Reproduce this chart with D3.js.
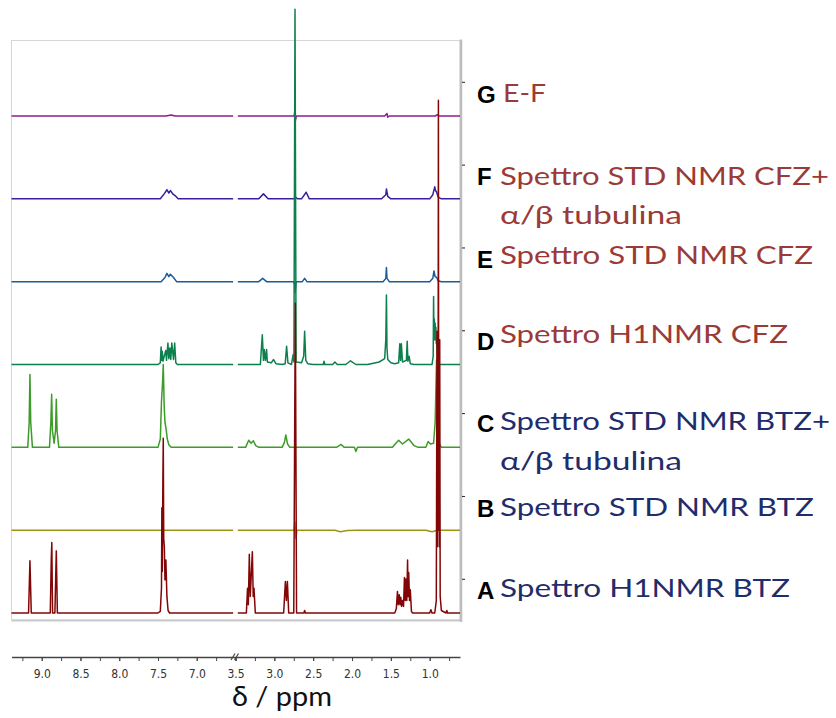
<!DOCTYPE html>
<html>
<head>
<meta charset="utf-8">
<script src="https://cdn.jsdelivr.net/npm/d3@7"></script>
<style>
  html, body { margin: 0; padding: 0; background: #fff; }
  svg { display: block; }
</style>
</head>
<body>
<svg id="chart" width="836" height="718"></svg>
<script>
// ppm axis is broken between 6.5 and 3.5
const leftTicks  = [9.0, 8.5, 8.0, 7.5, 7.0];
const rightTicks = [3.5, 3.0, 2.5, 2.0, 1.5, 1.0];

// spectra: [ppm, intensity] points, intensity in units of trace spacing; null = axis break
const specA = [
  [9.39,0],[9.17,0],[9.152,0.63],[9.135,0],
  [8.89,0],[8.877,0.64],[8.87,0.85],[8.86,0],[8.83,0],[8.812,0.75],[8.798,0],
  [7.50,0],[7.47,0.02],[7.455,0.3],[7.45,1.27],[7.444,0.5],[7.437,1.6],[7.432,2.11],[7.426,0.9],[7.418,0.8],[7.41,0.4],[7.398,0.64],[7.385,0.2],[7.37,0.03],[7.35,0],
  [6.53,0], null,
  [3.47,0],[3.36,0],[3.345,0.3],[3.335,0.1],[3.322,0.71],[3.31,0.2],[3.283,0.74],[3.272,0.2],[3.262,0.3],[3.245,0],
  [2.88,0],[2.858,0.38],[2.845,0.15],[2.832,0.38],[2.815,0],
  [2.75,0],[2.73,3.74],[2.714,0],
  [2.62,0],[2.61,0.03],[2.60,0],
  [1.45,0],[1.43,0.05],[1.415,0.26],[1.405,0.1],[1.392,0.22],[1.382,0.1],[1.372,0.19],[1.362,0.08],[1.35,0.15],[1.337,0.08],[1.325,0.43],[1.315,0.15],[1.305,0.41],[1.295,0.15],[1.285,0.64],[1.278,0.2],[1.27,0.49],[1.26,0.15],[1.25,0.28],[1.235,0.02],[1.22,0],
  [1.0,0],[0.985,0.04],[0.97,0],
  [0.935,0],[0.915,0.15],[0.906,3.4],[0.901,0.8],[0.897,3.4],[0.893,1.0],[0.888,6.19],[0.884,1.0],[0.88,3.3],[0.876,0.8],[0.871,3.3],[0.865,0.2],[0.85,0.03],
  [0.79,0],[0.78,0.03],[0.77,0],[0.61,0]
];
const specB = [
  [9.39,0],[6.53,0], null,
  [3.47,0],[2.745,0],[2.735,0.1],[2.722,-0.1],[2.71,0],
  [2.22,0],[2.15,-0.02],[2.06,-0.005],[1.95,0],
  [1.05,0],[0.97,-0.02],[0.9,0],[0.61,0]
];
const specC = [
  [9.39,0],[9.18,0],[9.162,0.3],[9.152,0.88],[9.142,0.3],[9.12,0],
  [8.9,0],[8.882,0.3],[8.872,0.64],[8.862,0.2],[8.84,0.05],[8.822,0.2],[8.812,0.58],[8.802,0.2],[8.78,0],
  [7.50,0],[7.47,0.1],[7.455,0.55],[7.44,0.8],[7.432,1.0],[7.42,0.5],[7.41,0.3],[7.395,0.22],[7.38,0.1],[7.36,0.03],[7.33,0],
  [6.53,0], null,
  [3.47,0],[3.37,0],[3.33,0.085],[3.30,0.05],[3.27,0.08],[3.24,0.02],[3.2,0],
  [2.9,0],[2.87,0.06],[2.852,0.15],[2.83,0.04],[2.8,0],
  [2.2,0],[2.14,0.035],[2.1,0],
  [1.97,0],[1.95,-0.05],[1.93,0],
  [1.48,0],[1.40,0.085],[1.35,0.04],[1.27,0.1],[1.2,0.02],[1.15,0],
  [1.05,0],[1.02,0.07],[0.99,0.04],[0.95,0.05],[0.93,0.3],[0.912,1.05],[0.9,0.3],[0.88,0.05],[0.85,0],[0.61,0]
];
const specD = [
  [9.39,0],[7.50,0],[7.47,0.02],[7.46,0.21],[7.452,0.05],[7.445,0.16],[7.435,0.04],[7.40,0.17],[7.39,0.05],[7.372,0.26],[7.36,0.07],[7.347,0.2],[7.335,0.06],[7.322,0.26],[7.30,0.06],[7.285,0.26],[7.27,0.02],[7.25,0],
  [6.53,0], null,
  [3.47,0],[3.18,0],[3.155,0.36],[3.14,0.05],[3.13,0.18],[3.115,0.05],[3.10,0.18],[3.09,0.03],[3.04,0.02],[3.01,0.06],[2.98,0.01],[2.90,0],
  [2.86,0.01],[2.842,0.22],[2.825,0.02],[2.78,0],[2.758,0.12],[2.748,0.03],[2.734,4.29],[2.72,0.03],
  [2.65,0.02],[2.622,0.1],[2.61,0.40],[2.595,0.05],[2.57,0.01],[2.5,0],
  [2.37,0],[2.36,0.04],[2.35,0],[2.25,0],[2.22,0.03],[2.19,0],[2.08,0],[2.02,0.045],[1.95,0],
  [1.8,0],[1.65,0.03],[1.58,0.07],[1.565,0.3],[1.557,0.84],[1.55,0.2],[1.54,0.06],[1.50,0.02],[1.45,0.01],
  [1.40,0.02],[1.385,0.25],[1.375,0.05],[1.365,0.25],[1.35,0.03],[1.30,0.05],[1.29,0.28],[1.28,0.04],[1.265,0.1],[1.25,0.01],[1.2,0],
  [0.97,0],[0.955,0.1],[0.95,0.82],[0.945,0.3],[0.94,0.55],[0.935,0.3],[0.93,0.5],[0.925,0.3],[0.92,0.45],[0.915,0.25],[0.91,0.35],[0.9,0.05],[0.88,0],[0.61,0]
];
const specE = [
  [9.39,0],[7.46,0],[7.41,0.05],[7.385,0.1],[7.36,0.06],[7.34,0.09],[7.30,0.05],[7.26,0],
  [6.53,0], null,
  [3.47,0],[3.2,0],[3.15,0.04],[3.1,0],[2.75,0],[2.74,-0.03],[2.732,-0.13],[2.72,0],[2.64,0],[2.61,0.04],[2.58,0],
  [1.6,0],[1.565,0.04],[1.557,0.17],[1.55,0.04],[1.52,0],
  [1.0,0],[0.96,0.04],[0.945,0.13],[0.93,0.06],[0.91,0.05],[0.89,0.01],[0.85,0],[0.61,0]
];
const specF = [
  [9.39,0],[7.47,0],[7.42,0.06],[7.385,0.11],[7.36,0.07],[7.34,0.1],[7.31,0.06],[7.28,0.04],[7.24,0],
  [6.53,0], null,
  [3.47,0],[3.2,0],[3.14,0.06],[3.08,0],[2.75,0],[2.73,0.02],[2.7,0],[2.65,0],[2.59,0.08],[2.55,0],
  [1.62,0],[1.565,0.05],[1.557,0.12],[1.54,0.03],[1.5,0],
  [1.0,0],[0.96,0.05],[0.935,0.145],[0.925,0.1],[0.91,0.08],[0.89,0.02],[0.85,0],[0.61,0]
];
const specG = [
  [9.39,0],[7.40,0],[7.33,0.012],[7.28,0],
  [6.53,0], null,
  [3.47,0],[2.745,0],[2.737,0.05],[2.727,-0.05],[2.717,0],[1.58,0],[1.55,0.03],[1.54,-0.015],[1.52,0],[0.93,0],[0.9,0.015],[0.88,0],[0.61,0]
];

const traceKeys   = ['G', 'F', 'E', 'D', 'C', 'B', 'A'];
const traceData   = { A: specA, B: specB, C: specC, D: specD, E: specE, F: specF, G: specG };
const traceOffset = { A: 0, B: 1, C: 2, D: 3, E: 4, F: 5, G: 6 };
const traceColor  = { A: '#820606', B: '#9c9514', C: '#3d9b27', D: '#0d7f4e', E: '#1c5b98', F: '#3b1e9e', G: '#8e1c8e' };

const labelLines = {
  G: ['E-F'],
  F: ['Spettro STD NMR CFZ+', 'α/β tubulina'],
  E: ['Spettro STD NMR CFZ'],
  D: ['Spettro H1NMR CFZ'],
  C: ['Spettro STD NMR BTZ+', 'α/β tubulina'],
  B: ['Spettro STD NMR BTZ'],
  A: ['Spettro H1NMR BTZ']
};

const svg = d3.select('#chart');
const L = 11.5, R = 460, T = 40.5, B = 620, BRK = 235.5;

const x = d3.scaleLinear().domain([9.39, 6.5, 3.5, 0.61]).range([L, BRK, BRK, R]);
const y = d3.scaleLinear().domain([0, 6]).range([613, 116]);

// frame
svg.append('rect').attr('x', L).attr('y', T).attr('width', R - L).attr('height', B - T)
  .attr('fill', 'none').attr('stroke', '#d6d6d6').attr('stroke-width', 1);
svg.append('line').attr('x1', L).attr('x2', R).attr('y1', B + 0.5).attr('y2', B + 0.5)
  .attr('stroke', '#c9c9c9').attr('stroke-width', 2);
svg.append('line').attr('x1', R + 1).attr('x2', R + 1).attr('y1', T - 1).attr('y2', B + 2)
  .attr('stroke', '#bdbdbd').attr('stroke-width', 2.5);

// right-side ticks, one per trace
svg.selectAll('line.rt').data(traceKeys).join('line').attr('class', 'rt')
  .attr('x1', R + 2).attr('x2', R + 5)
  .attr('y1', d => y(traceOffset[d] + 0.407)).attr('y2', d => y(traceOffset[d] + 0.407))
  .attr('stroke', '#222').attr('stroke-width', 1);

// traces (A drawn last so it sits on top)
const line = d3.line().defined(d => d !== null);
traceKeys.forEach(k => {
  const off = traceOffset[k];
  line.x(d => x(d[0])).y(d => y(off + d[1]));
  svg.append('path').datum(traceData[k])
    .attr('d', line)
    .attr('fill', 'none')
    .attr('stroke', traceColor[k])
    .attr('stroke-width', 1.5)
    .attr('stroke-linejoin', 'round');
});

// bottom ppm axis in two pieces
const AX_Y = 657;
const xl = d3.scaleLinear().domain([9.39, 6.5]).range([L, BRK]);
const xr = d3.scaleLinear().domain([3.5, 0.61]).range([BRK, R]);
function drawAxis(sc, majors, minors) {
  const g = svg.append('g').attr('transform', `translate(0,${AX_Y})`);
  g.call(d3.axisBottom(sc).tickValues(minors).tickSize(4).tickSizeOuter(0).tickFormat(''));
  g.select('.domain').attr('stroke', '#444').attr('stroke-width', 1.6);
  g.selectAll('.tick line').attr('stroke', '#444');
  const g2 = svg.append('g').attr('transform', `translate(0,${AX_Y})`);
  g2.call(d3.axisBottom(sc).tickValues(majors).tickSize(4).tickSizeOuter(0).tickFormat(d3.format('.1f')));
  g2.select('.domain').remove();
  g2.selectAll('.tick line').attr('stroke', '#444');
  g2.selectAll('.tick text').attr('y', 12)
    .attr('font-family', "'Liberation Sans Narrow','DejaVu Sans Condensed',sans-serif")
    .attr('font-size', 12).attr('fill', '#333');
}
drawAxis(xl, leftTicks, d3.range(9.25, 6.49, -0.25));
drawAxis(xr, rightTicks, d3.range(3.5, 0.74, -0.25));

// break mark
[-3, 0.5].forEach(dx => {
  svg.append('line')
    .attr('x1', BRK + dx - 1.5).attr('y1', AX_Y + 3)
    .attr('x2', BRK + dx + 2.5).attr('y2', AX_Y - 3.5)
    .attr('stroke', '#444').attr('stroke-width', 1.2);
});

svg.append('text').attr('x', 232).attr('y', 706)
  .attr('font-family', 'Lato, sans-serif').attr('font-size', 27)
  .attr('textLength', 100).attr('lengthAdjust', 'spacingAndGlyphs')
  .attr('fill', '#111').text('δ / ppm');

// trace labels
const letterY = { G: 103, F: 185, E: 268, D: 350, C: 432, B: 517, A: 599 };
const textY   = { G: 101.5, F: 184.5, E: 264, D: 343, C: 430, B: 516, A: 597 };
const textW   = { 'E-F': 43, 'Spettro STD NMR CFZ+': 329, 'α/β tubulina': 182, 'Spettro STD NMR CFZ': 313,
                  'Spettro H1NMR CFZ': 288, 'Spettro STD NMR BTZ+': 330, 'Spettro STD NMR BTZ': 314, 'Spettro H1NMR BTZ': 290 };
const labelColor = { G: '#9b3a37', F: '#9b3a37', E: '#9b3a37', D: '#9b3a37', C: '#1f2d6b', B: '#1f2d6b', A: '#1f2d6b' };

traceKeys.forEach(k => {
  svg.append('text').attr('x', 477).attr('y', letterY[k])
    .attr('font-family', "'Liberation Sans', Arial, sans-serif").attr('font-weight', 'bold')
    .attr('font-size', 24).attr('fill', '#000').text(k);
  labelLines[k].forEach((s, i) => {
    svg.append('text').attr('x', k === 'G' ? 503 : 500).attr('y', textY[k] + i * 39.5)
      .attr('font-family', 'Lato, sans-serif').attr('font-size', 25.5)
      .attr('textLength', textW[s]).attr('lengthAdjust', 'spacingAndGlyphs')
      .attr('fill', labelColor[k]).text(s);
  });
});
</script>
</body>
</html>
